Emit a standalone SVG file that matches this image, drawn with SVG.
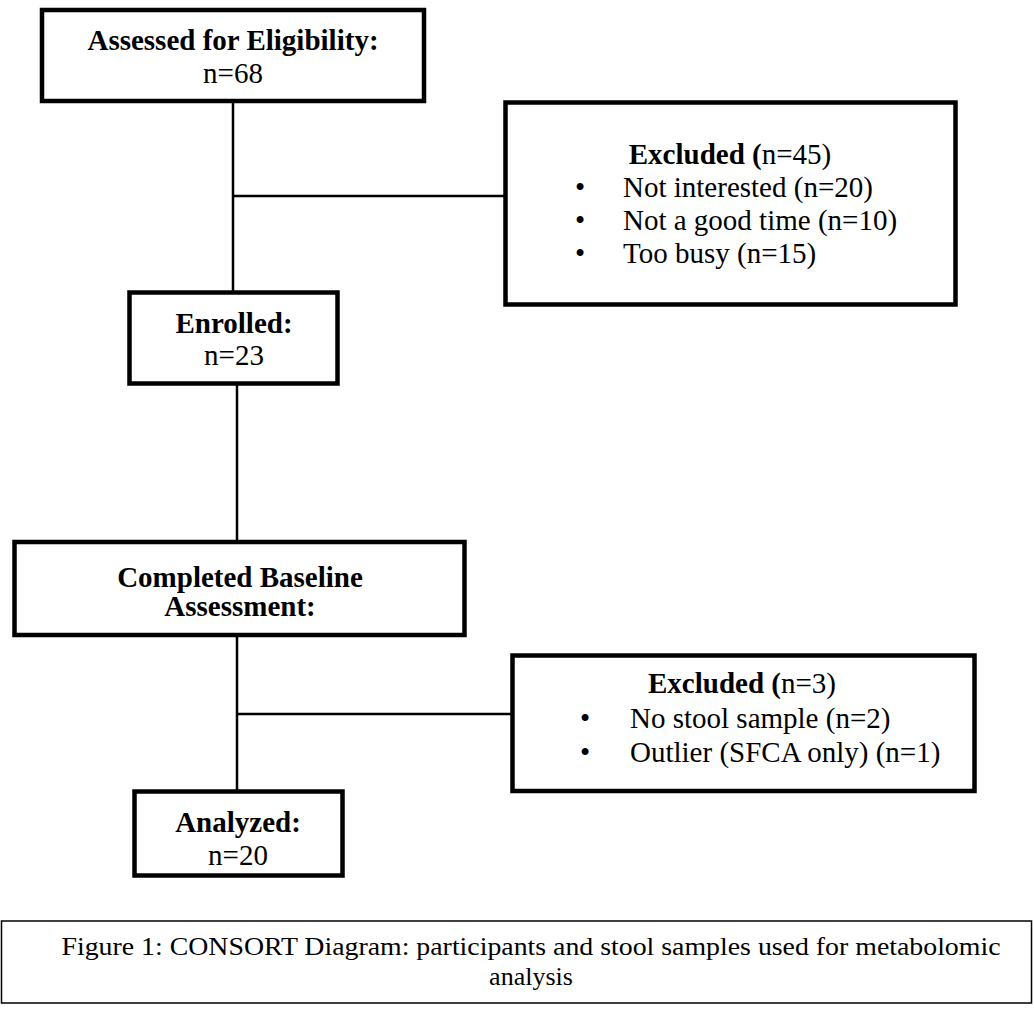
<svg xmlns="http://www.w3.org/2000/svg" width="1034" height="1021" viewBox="0 0 1034 1021">
<style>
.box{fill:#fff;stroke:#000;stroke-width:4.5}
.cap{fill:#fff;stroke:#000;stroke-width:1.5}
.ln{stroke:#000;stroke-width:2.5;fill:none}
text{font-family:"Liberation Serif","Times New Roman",serif;font-size:29px;fill:#000}
.b{font-weight:bold}
.c{text-anchor:middle}
.ct{font-size:26px}
</style>
<rect width="1034" height="1021" fill="#fff"/>
<g id="connectors">
<line class="ln" x1="233" y1="101" x2="233" y2="292"/>
<line class="ln" x1="233" y1="196" x2="506" y2="196"/>
<line class="ln" x1="237" y1="384" x2="237" y2="542"/>
<line class="ln" x1="237" y1="637" x2="237" y2="792"/>
<line class="ln" x1="237" y1="714" x2="513" y2="714"/>
</g>
<g id="assessed">
<rect class="box" x="42" y="10" width="382" height="91"/>
<text class="b c" x="233" y="50">Assessed for Eligibility:</text>
<text class="c" x="233" y="83">n=68</text>
</g>
<g id="excluded1">
<rect class="box" x="505.5" y="102.5" width="450" height="202"/>
<text class="c" x="730" y="164"><tspan class="b">Excluded (</tspan>n=45)</text>
<text class="c" x="580" y="197">•</text>
<text x="623" y="197">Not interested (n=20)</text>
<text class="c" x="580" y="230">•</text>
<text x="623" y="230">Not a good time (n=10)</text>
<text class="c" x="580" y="263">•</text>
<text x="623" y="263">Too busy (n=15)</text>
</g>
<g id="enrolled">
<rect class="box" x="129.5" y="292.5" width="208" height="91"/>
<text class="b c" x="234" y="333">Enrolled:</text>
<text class="c" x="234" y="365">n=23</text>
</g>
<g id="baseline">
<rect class="box" x="14.5" y="542" width="450" height="93"/>
<text class="b c" x="240" y="587">Completed Baseline</text>
<text class="b c" x="240" y="616">Assessment:</text>
</g>
<g id="excluded2">
<rect class="box" x="512.5" y="655.5" width="462" height="135.5"/>
<text class="c" x="742" y="693"><tspan class="b">Excluded (</tspan>n=3)</text>
<text class="c" x="585" y="728">•</text>
<text x="630" y="728">No stool sample (n=2)</text>
<text class="c" x="585" y="762">•</text>
<text x="630" y="762">Outlier (SFCA only) (n=1)</text>
</g>
<g id="analyzed">
<rect class="box" x="134.5" y="791.5" width="208" height="84"/>
<text class="b c" x="238" y="832">Analyzed:</text>
<text class="c" x="238" y="865">n=20</text>
</g>
<g id="caption">
<rect class="cap" x="1.5" y="921" width="1030" height="82"/>
<text class="c ct" x="531" y="955" textLength="939" lengthAdjust="spacingAndGlyphs">Figure 1: CONSORT Diagram: participants and stool samples used for metabolomic</text>
<text class="c ct" x="531" y="985">analysis</text>
</g>
</svg>
